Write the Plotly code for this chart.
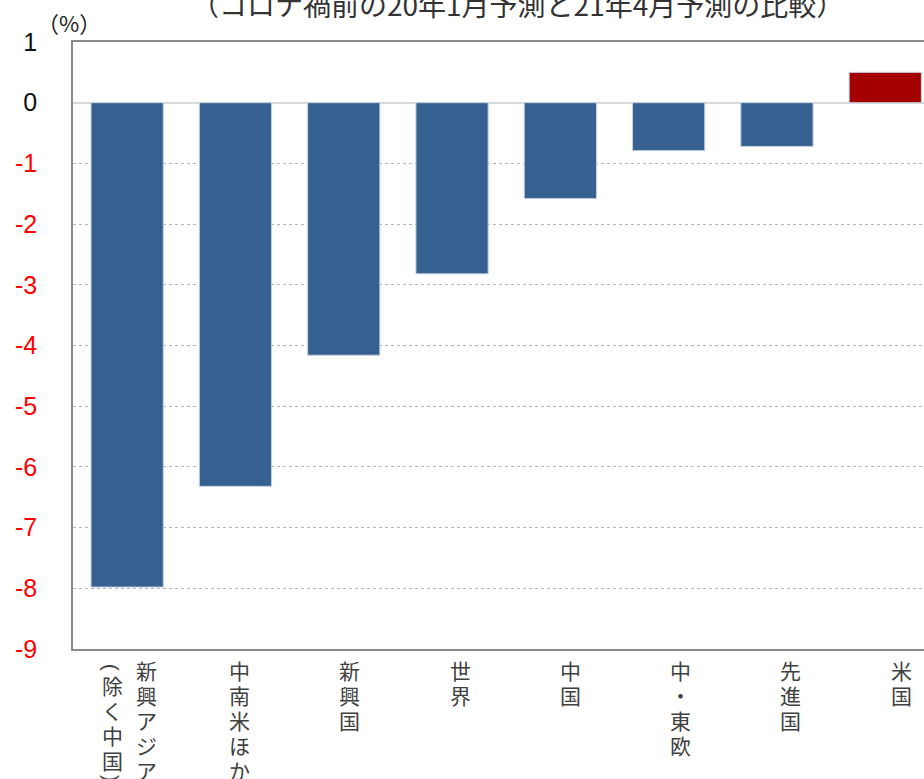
import plotly.graph_objects as go

# Forecast revision (pp): Apr-2021 forecast minus Jan-2020 forecast
categories = ["新興アジア（除く中国）", "中南米ほか", "新興国", "世界", "中国", "中・東欧", "先進国", "米国"]
label_main = ["新興アジア", "中南米ほか", "新興国", "世界", "中国", "中・東欧", "先進国", "米国"]
label_sub = ["（除く中国）", "", "", "", "", "", "", ""]
values = [-7.98, -6.32, -4.16, -2.82, -1.58, -0.79, -0.72, 0.50]
tick_vals = [1, 0, -1, -2, -3, -4, -5, -6, -7, -8, -9]

title_text = "（コロナ禍前の20年1月予測と21年4月予測の比較）"
unit_text = "（%）"

BLUE = "#36608f"
RED = "#a50000"
colors = [RED if v > 0 else BLUE for v in values]

W, H = 924, 779
ML, MT, MB = 73, 42, 130
PLOT_H = H - MT - MB

LABEL_FONT = dict(size=21, color="#404040", family="Noto Sans CJK JP")
PAREN_FONT = dict(size=21, color="#404040", family="Liberation Sans")
PITCH = 25      # vertical distance between stacked characters (px)
TOP = -4        # shift of the first character below the axis (px)

fig = go.Figure()
fig.add_trace(go.Bar(
    x=list(range(len(categories))),
    y=values,
    width=0.667,
    marker=dict(color=colors, line=dict(color="#c4d2e6", width=1)),
    hovertext=categories,
    showlegend=False,
))


def tick_label(v):
    if v < 0:
        return f'<span style="color:#ff0000">{v}</span>'
    return str(v)


def column(i, text, xshift, start):
    """Stack the characters of `text` top-to-bottom under category i
    (vertical writing; brackets are turned sideways)."""
    out = []
    y = start
    for ch in text:
        if ch in "（）":
            paren = "(" if ch == "（" else ")"
            out.append(dict(
                x=i, y=0, xref="x", yref="paper", xanchor="center",
                yanchor="middle", xshift=xshift,
                yshift=y - 14 if ch == "（" else y - 10,
                showarrow=False, text=paren, textangle=90, font=PAREN_FONT))
            y -= 15 if ch == "（" else PITCH
            continue
        out.append(dict(
            x=i, y=0, xref="x", yref="paper", xanchor="center", yanchor="top",
            xshift=xshift, yshift=y, showarrow=False, text=ch,
            font=LABEL_FONT))
        y -= PITCH
    return out


annotations = []
for i, (m, s) in enumerate(zip(label_main, label_sub)):
    shift = 2 + 2 * i
    if s:
        annotations += column(i, m, shift + 17, TOP)
        annotations += column(i, s, shift - 17, TOP)
    else:
        annotations += column(i, m, shift, TOP)

annotations.append(dict(
    x=0.522, y=1 + (MT - 4) / PLOT_H, xref="paper", yref="paper",
    xanchor="center", yanchor="middle", showarrow=False,
    text=title_text, font=dict(size=28, color="#333333", family="Noto Sans CJK JP")))
annotations.append(dict(
    x=(69 - ML) / (W - ML), y=1 + (MT - 22) / PLOT_H, xref="paper", yref="paper",
    xanchor="center", yanchor="middle", showarrow=False, text=unit_text,
    font=dict(size=22, color="#222222", family="Noto Sans CJK JP")))

cat_px = 108.3
right_edge = 7.5 - (ML + 8 * cat_px - W) / cat_px

fig.update_layout(
    width=W, height=H,
    margin=dict(l=ML, r=0, t=MT, b=MB),
    paper_bgcolor="white", plot_bgcolor="white",
    annotations=annotations,
    xaxis=dict(
        range=[-0.5, right_edge],
        showticklabels=False, showgrid=False, zeroline=False,
        showline=True, mirror=True, linecolor="#8a8a8a", linewidth=1.5,
        ticks="", fixedrange=True,
    ),
    yaxis=dict(
        range=[-9, 1],
        tickvals=tick_vals,
        ticktext=[tick_label(v) for v in tick_vals],
        tickfont=dict(size=25, color="#111111", family="Liberation Sans"),
        ticklabelstandoff=29,
        showgrid=True, gridcolor="#b5b5b5", griddash="dot", gridwidth=1,
        zeroline=True, zerolinecolor="#d9d9d9", zerolinewidth=2,
        showline=True, mirror=False, linecolor="#8a8a8a", linewidth=1.5,
        ticks="",
    ),
)

fig.write_html("out.html")
